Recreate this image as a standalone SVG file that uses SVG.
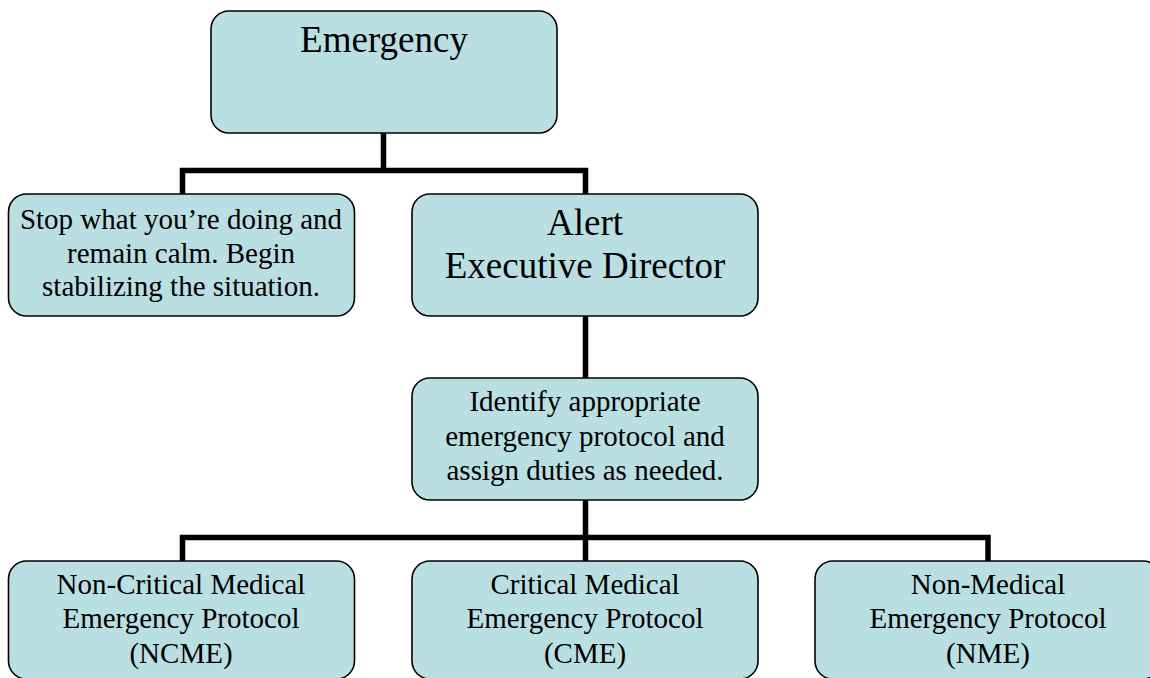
<svg xmlns="http://www.w3.org/2000/svg" width="1150" height="678" viewBox="0 0 1150 678">
<style>
.box{fill:#b9dfe3;stroke:#000;stroke-width:1.6}
.t{fill:#000;text-anchor:middle}
.big{font-size:37px}
.sm{font-size:29px}
.c{stroke:#000;stroke-width:5.5;fill:none;stroke-linejoin:miter;stroke-linecap:butt}
</style>
<rect width="1150" height="678" fill="#fff"/>
<g id="connectors">
<path class="c" d="M383.5 133 V170.5 M182.5 195 V170.5 H585.5 V195"/>
<path class="c" d="M585.5 316 V378"/>
<path class="c" d="M585.5 500 V561 M182.5 561 V537.5 H988 V561"/>
</g>
<g font-family="Liberation Serif, Times New Roman, serif">
<g id="emergency">
<rect class="box" x="211" y="11" width="346" height="122" rx="18"/>
<text class="t big" x="384" y="52">Emergency</text>
</g>
<g id="stop">
<rect class="box" x="8.5" y="194" width="346" height="122" rx="18"/>
<text class="t sm" x="181" y="229">Stop what you’re doing and</text>
<text class="t sm" x="181" y="262.5">remain calm. Begin</text>
<text class="t sm" x="181" y="296">stabilizing the situation.</text>
</g>
<g id="alert">
<rect class="box" x="412" y="194" width="346" height="122" rx="18"/>
<text class="t big" x="585" y="235">Alert</text>
<text class="t big" x="585" y="278">Executive Director</text>
</g>
<g id="identify">
<rect class="box" x="412" y="378" width="346" height="122" rx="18"/>
<text class="t sm" x="585" y="411">Identify appropriate</text>
<text class="t sm" x="585" y="446">emergency protocol and</text>
<text class="t sm" x="585" y="480">assign duties as needed.</text>
</g>
<g id="ncme">
<rect class="box" x="8.5" y="561" width="346" height="118" rx="18"/>
<text class="t sm" x="181" y="594">Non-Critical Medical</text>
<text class="t sm" x="181" y="628">Emergency Protocol</text>
<text class="t sm" x="181" y="663">(NCME)</text>
</g>
<g id="cme">
<rect class="box" x="412" y="561" width="346" height="118" rx="18"/>
<text class="t sm" x="585" y="594">Critical Medical</text>
<text class="t sm" x="585" y="628">Emergency Protocol</text>
<text class="t sm" x="585" y="663">(CME)</text>
</g>
<g id="nme">
<rect class="box" x="815" y="561" width="346" height="118" rx="18"/>
<text class="t sm" x="988" y="594">Non-Medical</text>
<text class="t sm" x="988" y="628">Emergency Protocol</text>
<text class="t sm" x="988" y="663">(NME)</text>
</g>
</g>
</svg>
